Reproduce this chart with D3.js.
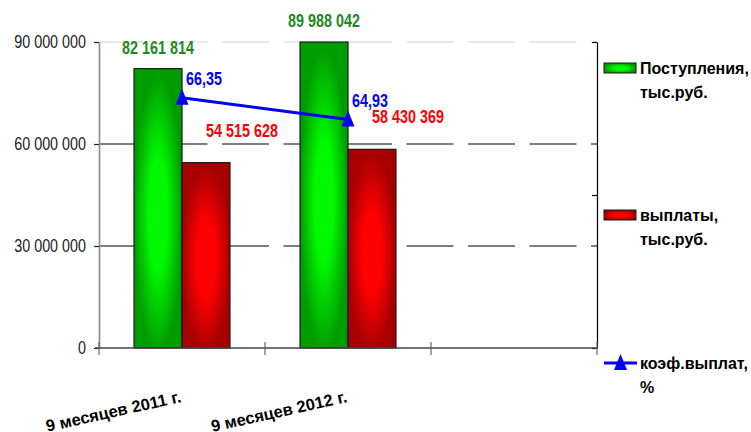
<!DOCTYPE html>
<html>
<head>
<meta charset="utf-8">
<script src="https://cdn.jsdelivr.net/npm/d3@7"></script>
<style>
	body{margin:0;background:#fff}
	svg{display:block}
	text{font-family:"Liberation Sans",Arial,sans-serif}
</style>
</head>
<body>
<div id="chart"></div>
<script>
// values
var categories = ["9 месяцев 2011 г.", "9 месяцев 2012 г.", ""]
var receipts = [82161814, 89988042]
var payments = [54515628, 58430369]
var ratio = [66.35, 64.93]
var yTicks = [0, 30000000, 60000000, 90000000]
var y2Ticks = [50, 60, 70]
var legendLabels = [["Поступления,", "тыс.руб."], ["выплаты,", "тыс.руб."], ["коэф.выплат,", "%"]]

var width = 751, height = 432
var plot = {left: 99, right: 597, top: 42, bottom: 348}
var squeeze = 0.82 // narrow face is not installed, so squeeze the regular one

var svg = d3.select("#chart").append("svg")
	.attr("width", width)
	.attr("height", height)

var defs = svg.append("defs")
function radial(id, edge, mid){
	let g = defs.append("radialGradient").attr("id", id)
		.attr("cx", "50%").attr("cy", "52%").attr("r", "50%")
	g.append("stop").attr("offset", "0%").attr("stop-color", mid)
	g.append("stop").attr("offset", "40%").attr("stop-color", mid)
	g.append("stop").attr("offset", "100%").attr("stop-color", edge)
}
radial("gGreen", "#009c00", "#00f800")
radial("gRed", "#a80000", "#ff0000")

var x = d3.scaleBand()
	.domain(d3.range(categories.length))
	.range([plot.left, plot.right])
var xs = d3.scaleBand()
	.domain(["in", "out"])
	.range([0, x.bandwidth()])
	.paddingOuter(0.73)
var y = d3.scaleLinear().domain([0, 90000000]).range([plot.bottom, plot.top])
var y2 = d3.scaleLinear().domain([50, 70]).range([plot.bottom, plot.top])

var fmt = d => d3.format(",")(d).replace(/,/g, " ")

// dashed grid
svg.append("g").selectAll("line")
	.data(yTicks.filter(d => d > 0))
	.join("line")
	.attr("x1", plot.left).attr("x2", plot.right)
	.attr("y1", d => y(d)).attr("y2", d => y(d))
	.attr("stroke", d => d == 90000000 ? "#d6d6d6" : "#000")
	.attr("stroke-width", 1.2)
	.attr("stroke-dasharray", "47,14.5")

// bars
var bars = svg.append("g")
bars.selectAll(".in")
	.data(receipts)
	.join("rect")
	.attr("class", "in")
	.attr("x", (d, i) => x(i) + xs("in"))
	.attr("y", d => y(d))
	.attr("width", xs.bandwidth())
	.attr("height", d => y(0) - y(d))
	.attr("fill", "url(#gGreen)")
	.attr("stroke", "#1a1a1a").attr("stroke-width", 1.2)
bars.selectAll(".out")
	.data(payments)
	.join("rect")
	.attr("class", "out")
	.attr("x", (d, i) => x(i) + xs("out"))
	.attr("y", d => y(d))
	.attr("width", xs.bandwidth())
	.attr("height", d => y(0) - y(d))
	.attr("fill", "url(#gRed)")
	.attr("stroke", "#1a1a1a").attr("stroke-width", 1.2)

// left axis
var yAxis = svg.append("g")
	.attr("transform", `translate(${plot.left},0)`)
	.call(d3.axisLeft(y).tickValues(yTicks).tickFormat(fmt).tickSize(5).tickSizeOuter(0).tickPadding(8))
yAxis.select(".domain").attr("stroke", "#8a8a8a").attr("stroke-width", 1.6)
yAxis.selectAll(".tick line").attr("stroke", "#222").attr("stroke-width", 1.2)
yAxis.selectAll("text")
	.attr("x", -13 / squeeze)
	.attr("transform", `scale(${squeeze},1)`)
	.attr("font-size", 17.5)
	.attr("font-family", null)
	.attr("fill", "#1a1a1a")

// right (secondary) axis, no labels
var y2Axis = svg.append("g")
	.attr("transform", `translate(${plot.right},0)`)
	.call(d3.axisRight(y2).tickValues(y2Ticks).tickFormat("").tickSize(-5).tickSizeOuter(0))
y2Axis.select(".domain").attr("stroke", "#000").attr("stroke-width", 1.2)
y2Axis.selectAll(".tick line").attr("stroke", "#000").attr("stroke-width", 1.2)

// category axis
var xAxis = svg.append("g")
xAxis.append("line")
	.attr("x1", plot.left - 4).attr("x2", plot.right)
	.attr("y1", y(0)).attr("y2", y(0))
	.attr("stroke", "#444").attr("stroke-width", 1.6)
xAxis.selectAll(".xt")
	.data(d3.range(categories.length + 1))
	.join("line")
	.attr("class", "xt")
	.attr("x1", i => plot.left + i * x.step()).attr("x2", i => plot.left + i * x.step())
	.attr("y1", y(0) - 6).attr("y2", y(0) + 7)
	.attr("stroke", "#666").attr("stroke-width", 1.2)
xAxis.selectAll("text")
	.data(categories)
	.join("text")
	.attr("font-size", 16.5)
	.attr("font-weight", "bold")
	.attr("fill", "#000")
	.attr("text-anchor", "end")
	.attr("transform", (d, i) => `translate(${x(i) + x.bandwidth() / 2},${y(0) + 54}) rotate(-12.5)`)
	.text(d => d)

// ratio line
var line = d3.line()
	.x((d, i) => x(i) + x.bandwidth() / 2)
	.y(d => y2(d))
svg.append("path")
	.datum(ratio)
	.attr("d", line)
	.attr("fill", "none")
	.attr("stroke", "#0000ff")
	.attr("stroke-width", 3)
var tri = "M0,-9L6.5,7L-6.5,7Z"
svg.selectAll(".mk")
	.data(ratio)
	.join("path")
	.attr("class", "mk")
	.attr("d", tri)
	.attr("fill", "#0000ff")
	.attr("transform", (d, i) => `translate(${x(i) + x.bandwidth() / 2},${y2(d)})`)

// data labels
var labels = svg.append("g").attr("font-weight", "bold").attr("font-size", 17.5)
function label(cls, data, colour, px, py, txt){
	labels.selectAll("." + cls)
		.data(data)
		.join("text")
		.attr("class", cls)
		.attr("text-anchor", "middle")
		.attr("fill", colour)
		.attr("transform", (d, i) => `translate(${px(d, i)},${py(d)}) scale(${squeeze},1)`)
		.text(txt)
}
label("lg", receipts, "#1e8a1e", (d, i) => x(i) + xs("in") + xs.bandwidth() / 2, d => y(d) - 15, fmt)
label("lr", payments, "#ff0000", (d, i) => x(i) + xs("out") + xs.bandwidth() / 2 + 36, d => y(d) - 26, fmt)
label("lb", ratio, "#0000ff", (d, i) => x(i) + x.bandwidth() / 2 + 22, d => y2(d) - 13,
	d => d3.format(".2f")(d).replace(".", ","))

// legend
var legendY = [68, 215, 363]
var legend = svg.append("g").attr("font-size", 16).attr("font-weight", "bold")
var items = legend.selectAll("g")
	.data(legendLabels)
	.join("g")
	.attr("transform", (d, i) => `translate(604,${legendY[i]})`)
items.filter((d, i) => i < 2).append("rect")
	.attr("x", 0).attr("y", -5).attr("width", 32).attr("height", 10)
	.attr("fill", (d, i) => i == 0 ? "url(#gGreen)" : "url(#gRed)")
	.attr("stroke", "#1a1a1a").attr("stroke-width", 1)
items.filter((d, i) => i == 2).append("line")
	.attr("x1", 0).attr("x2", 33).attr("y1", 0).attr("y2", 0)
	.attr("stroke", "#0000ff").attr("stroke-width", 3)
items.filter((d, i) => i == 2).append("path")
	.attr("d", tri).attr("fill", "#0000ff")
	.attr("transform", "translate(16.5,0)")
items.append("text")
	.attr("x", 36).attr("y", 6)
	.text(d => d[0])
items.append("text")
	.attr("x", 36).attr("y", 30)
	.text(d => d[1])
</script>
</body>
</html>
